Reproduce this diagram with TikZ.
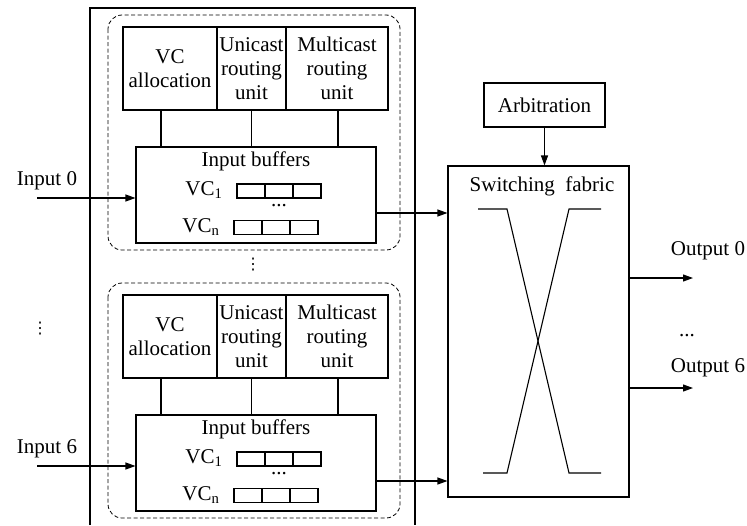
\documentclass[tikz,border=0pt]{standalone}
\usepackage{fontspec}
\setmainfont{Liberation Serif}
\newfontfamily\symfont{DejaVu Sans}
\usetikzlibrary{arrows.meta}
\tikzset{
	blk/.style={draw, line width=1.1pt, inner sep=1pt, align=center},
	cell/.style={draw, line width=1.1pt, minimum width=28pt, minimum height=14pt, inner sep=0pt},
	arr/.style={line width=1.1pt, -{Triangle[length=10pt,width=7pt]}},
	wire/.style={line width=1.1pt},
	grp/.style={line width=0.8pt, dash pattern=on 4pt off 2.5pt, rounded corners=14pt},
	vdot/.style={font=\symfont\fontsize{16}{16}\selectfont, inner sep=0pt}
}

\begin{document}
\begin{tikzpicture}[x=1pt, y=-1pt, font=\fontsize{21}{24}\selectfont]
	\useasboundingbox (0,0) rectangle (747,525);
	\draw[line width=1.3pt] (90,525) -- (90,8) -- (415,8) -- (415,525);
	
	\node[blk, minimum width=121pt, minimum height=44pt] (arb) at (544.5,105) {Arbitration};
	\node[blk, minimum width=181pt, minimum height=331pt] (fab) at (538.5,331.5) {};
	\node[] (fabtxt) at (542,186) {Switching\ \ fabric};
	\draw[arr] (arb.south) -- (arb.south |- fab.north);
	\draw[wire] (478,209) -- (507,209) -- (569,473) -- (601,473);
	\draw[wire] (601,209) -- (569,209) -- (507,473) -- (483,473);
	
	\foreach \k/\dy in {0/0, 6/268} {
		\draw[grp] (108,{15+\dy}) rectangle (400,{250+\dy});
		\node[blk, minimum width=94pt, minimum height=83pt] (alloc\k) at (170,{68.5+\dy}) {VC\\allocation};
		\node[blk, minimum width=69pt, minimum height=83pt] (uni\k) at (251.5,{68.5+\dy}) {Unicast\\routing\\unit};
		\node[blk, minimum width=102pt, minimum height=83pt] (multi\k) at (337,{68.5+\dy}) {Multicast\\routing\\unit};
		\node[blk, minimum width=240pt, minimum height=96pt] (buf\k) at (256,{195+\dy}) {};
		\node[] (buftxt\k) at (256,{161+\dy}) {Input buffers};
		\node[] (vca\k) at (204,{190+\dy}) {VC\textsubscript{1}};
		\node[] (vcb\k) at (201,{227+\dy}) {VC\textsubscript{n}};
		\foreach \i in {0,1,2} {
			\node[cell] (ca\k\i) at ({251+28*\i},{191+\dy}) {};
			\node[cell] (cb\k\i) at ({248+28*\i},{227.5+\dy}) {};
		}
		\node[] (bdots\k) at (279,{206+\dy}) {...};
		
		\draw[wire] ([xshift=-9pt]alloc\k.south) -- ([xshift=-9pt]alloc\k.south |- buf\k.north);
		\draw[wire] (uni\k.south) -- (uni\k.south |- buf\k.north);
		\draw[wire] ([xshift=1pt]multi\k.south) -- ([xshift=1pt]multi\k.south |- buf\k.north);
		
		\coordinate (in\k) at (37,{198+\dy});
		\node[] (inlbl\k) at (47,{181+\dy}) {Input \k};
		\draw[arr] (in\k) -- (in\k -| buf\k.west);
		\draw[arr] ([yshift=-18pt]buf\k.east) -- ([yshift=-18pt]buf\k.east -| fab.west);
	}
	
	\node[vdot] (vdots) at (253,265) {⋮};
	\node[vdot] (ldots) at (40,329) {⋮};
	
	\coordinate (out0) at (693,278);
	\coordinate (out6) at (693,388);
	\draw[arr] (out0 -| fab.east) -- (out0);
	\draw[arr] (out6 -| fab.east) -- (out6);
	\node[] (olbl0) at (708,251) {Output 0};
	\node[] (olbl6) at (708,368) {Output 6};
	\node[] (odots) at (687,336) {...};
\end{tikzpicture}
\end{document}
